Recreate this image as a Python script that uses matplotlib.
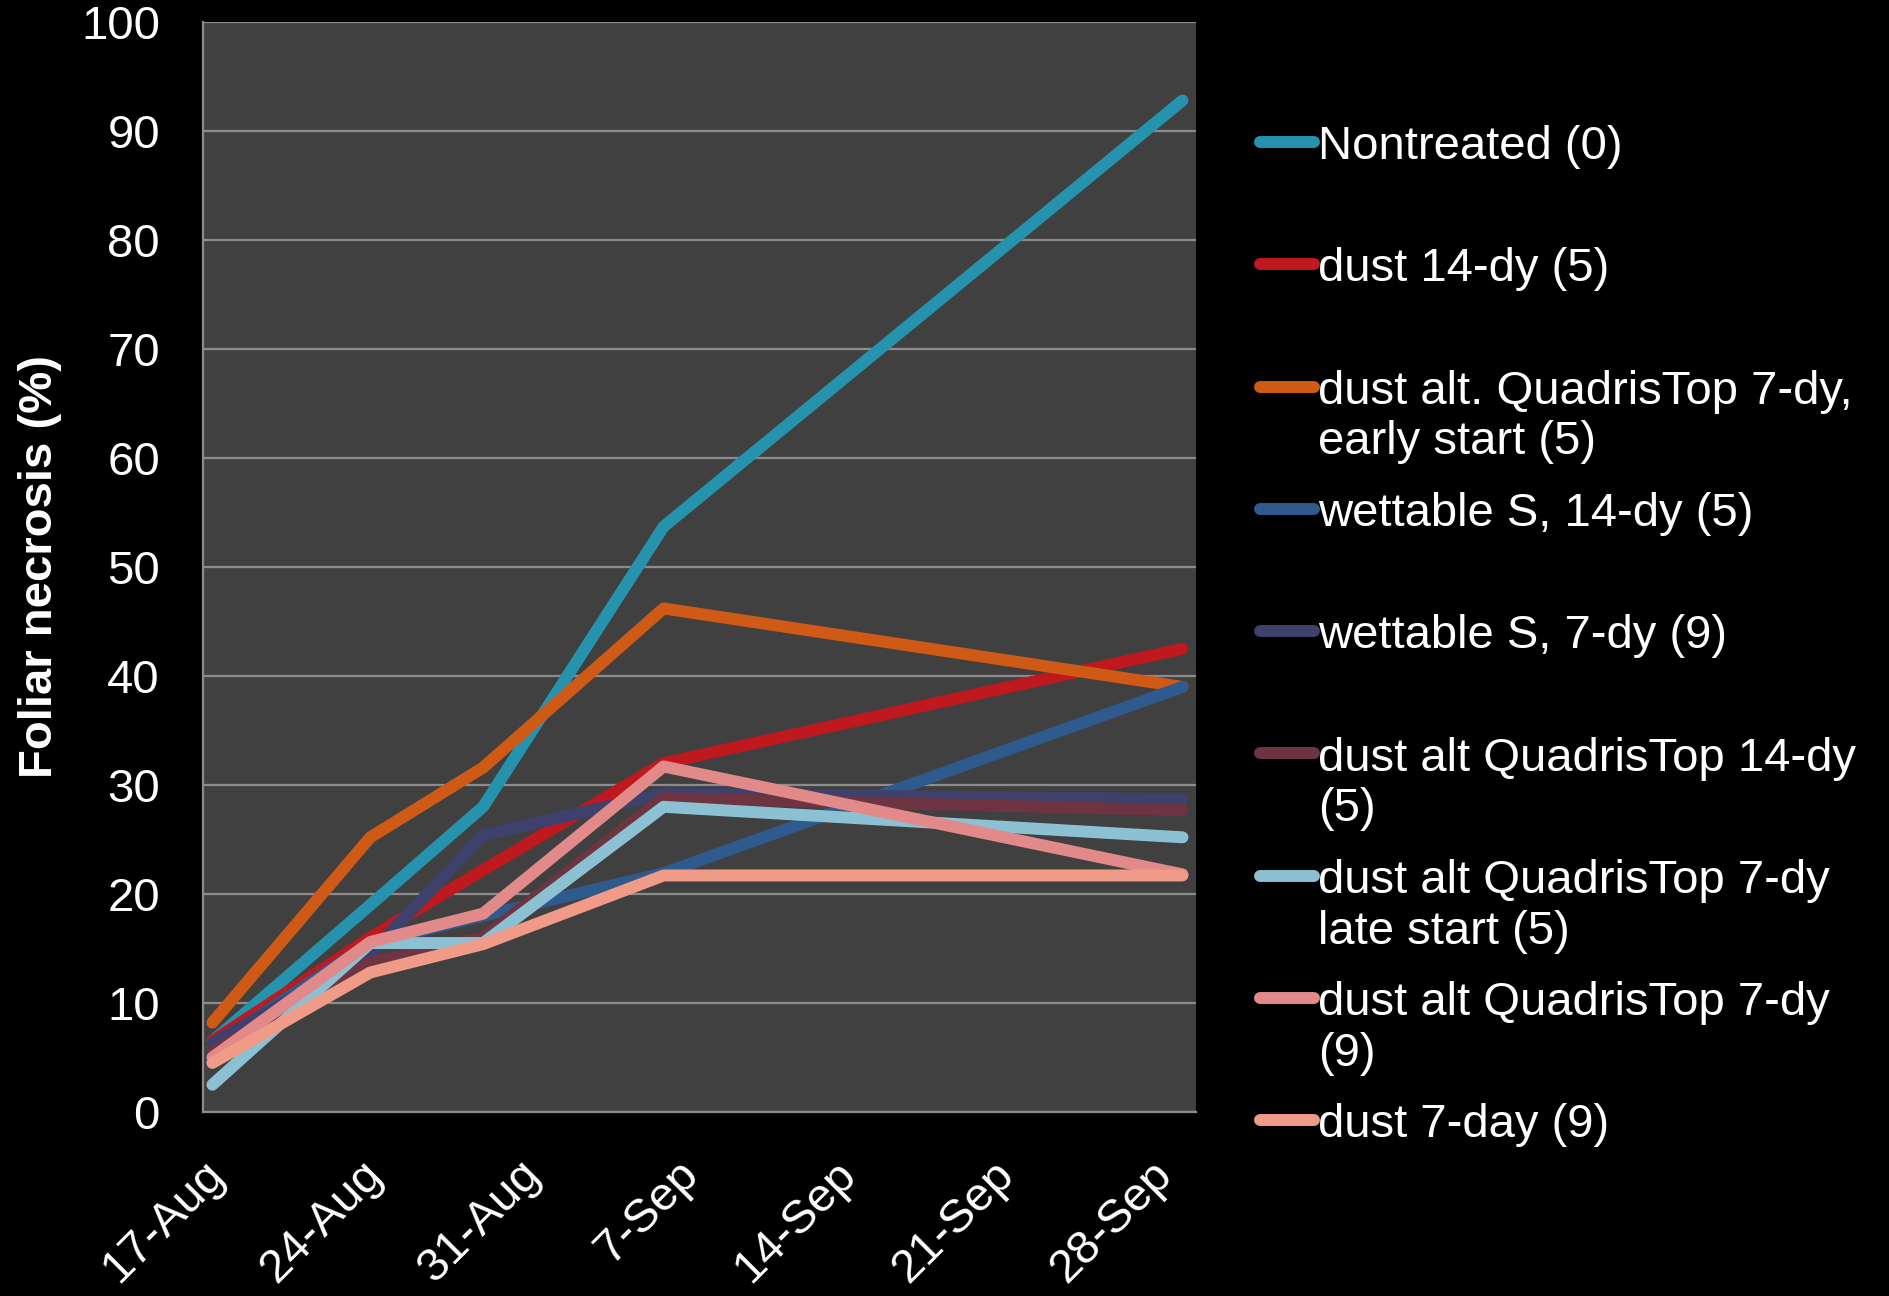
import matplotlib
matplotlib.use("Agg")
import matplotlib.pyplot as plt
import matplotlib.dates as mdates
import matplotlib.transforms as mtransforms
from matplotlib.lines import Line2D
import pandas as pd

plt.rcParams['font.family'] = ['Liberation Sans', 'DejaVu Sans']

# ── Data ───────────────────────────────────────────────────────────────────────
dates = pd.to_datetime(["2011-08-17", "2011-08-24", "2011-08-29",
                        "2011-09-06", "2011-09-29"])
tick_dates = pd.date_range("2011-08-17", "2011-09-28", freq="7D")

labels = [
    "Nontreated (0)",
    "dust 14-dy (5)",
    "dust alt. QuadrisTop 7-dy,\nearly start (5)",
    "wettable S, 14-dy (5)",
    "wettable S, 7-dy (9)",
    "dust alt QuadrisTop 14-dy\n(5)",
    "dust alt QuadrisTop 7-dy\nlate start (5)",
    "dust alt QuadrisTop 7-dy\n(9)",
    "dust 7-day (9)",
]
nontreated     = [6.5, 19.0, 28.0, 53.7, 92.8]
dust_14        = [6.5, 16.0, 22.2, 32.0, 42.5]
dust_alt_early = [8.2, 25.2, 31.6, 46.2, 39.0]
wettable_14    = [6.0, 15.5, 18.0, 21.9, 39.0]
wettable_7     = [6.3, 14.5, 25.4, 29.2, 28.7]
dust_alt_14    = [5.5, 13.7, 16.0, 28.8, 27.7]
dust_alt_late  = [2.5, 15.5, 15.5, 28.0, 25.2]
dust_alt_7     = [5.0, 15.6, 18.2, 31.7, 21.8]
dust_7         = [4.5, 12.8, 15.4, 21.7, 21.7]
series = [nontreated, dust_14, dust_alt_early, wettable_14, wettable_7,
          dust_alt_14, dust_alt_late, dust_alt_7, dust_7]
colors = ["#2693ae", "#c0181f", "#cf5a16", "#2f5a8e", "#3d416c",
          "#6e3441", "#8bc1d3", "#e2898a", "#f09b87"]

# ── Figure ─────────────────────────────────────────────────────────────────────
W, H = 1890, 1296
fig = plt.figure(figsize=(W / 100, H / 100), dpi=100, facecolor="black")
ax = fig.add_axes([203 / W, 1 - 1112 / H, (1196 - 203) / W, (1112 - 22) / H])
ax.set_facecolor("#404040")

lw = 8.6
for vals, col in zip(series, colors):
    ax.plot(dates, vals, color=col, lw=lw,
            solid_capstyle="round", solid_joinstyle="round")

ax.set_ylim(0, 100)
ax.set_yticks(range(0, 101, 10))
ax.set_xlim(dates[0] - pd.Timedelta(hours=10), dates[0] + pd.Timedelta(days=43.6))
ax.set_xticks(tick_dates)
ax.xaxis.set_major_formatter(mdates.DateFormatter("%-d-%b"))

ax.grid(axis="y", color="#8c8c8c", lw=1.6)
ax.set_axisbelow(True)
for s in ("top", "right"):
    ax.spines[s].set_visible(False)
for s in ("left", "bottom"):
    ax.spines[s].set_color("#8c8c8c")
    ax.spines[s].set_linewidth(1.6)

fs = 34
ax.tick_params(axis="y", length=0, pad=31, labelsize=fs, labelcolor="white")
ax.tick_params(axis="x", length=0, pad=29, labelsize=fs, labelcolor="white")
shift = mtransforms.ScaledTranslation(-10 / 100, 0, fig.dpi_scale_trans)
for lab in ax.get_xticklabels():
    lab.set_rotation(45)
    lab.set_ha("right")
    lab.set_va("top")
    lab.set_rotation_mode("anchor")
    lab.set_transform(lab.get_transform() + shift)

ax.set_ylabel("Foliar necrosis (%)", fontsize=fs, fontweight="bold", color="white")
ax.yaxis.set_label_coords((62 - 203) / 993, 0.5)

# ── Legend (drawn by hand: uniform slots, marker on the first text line) ──────
slot0, slot_step = 142, 122.3
for i, (lab, col) in enumerate(zip(labels, colors)):
    y = slot0 + i * slot_step
    fig.add_artist(Line2D([1260 / W, 1314 / W], [1 - y / H, 1 - y / H],
                          color=col, lw=lw, solid_capstyle="round"))
    fig.text(1318 / W, 1 - (y - 17) / H, lab, fontsize=fs, color="white",
             va="top", ha="left", linespacing=1.2)

fig.savefig("out.png", dpi=100, facecolor="black")
